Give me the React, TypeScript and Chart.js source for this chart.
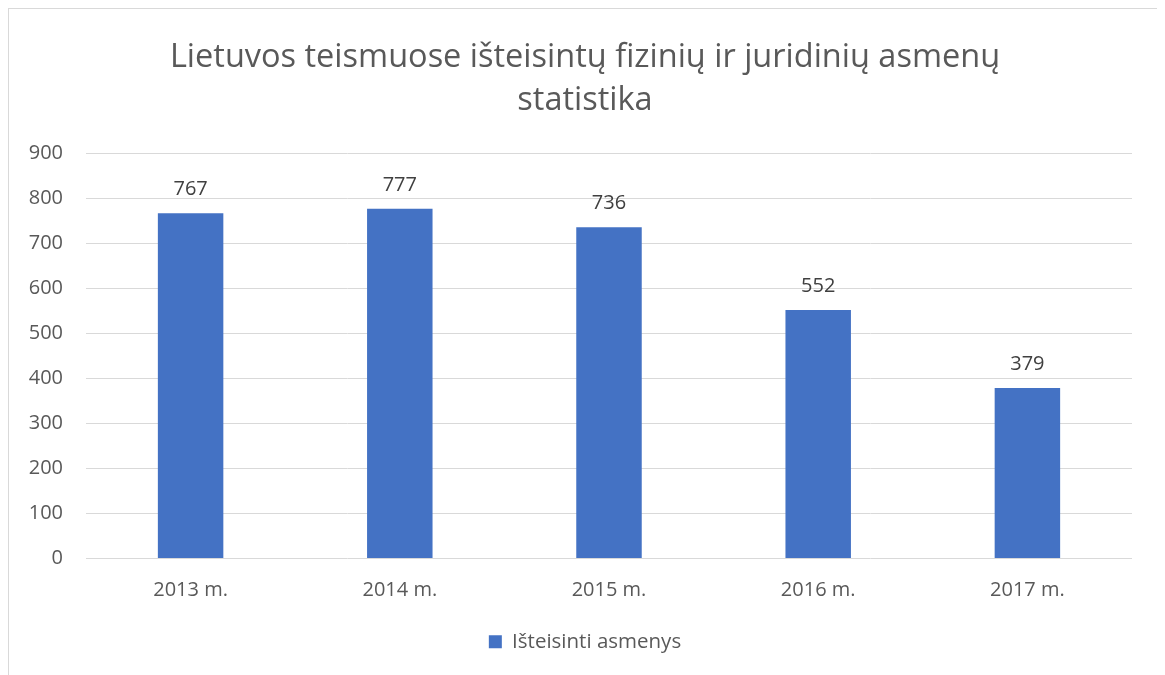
import React, { useEffect, useRef } from "react";
import { Chart, registerables } from "chart.js";

Chart.register(...registerables);

const categories = ["2013 m.", "2014 m.", "2015 m.", "2016 m.", "2017 m."];
const values = [767, 777, 736, 552, 379];
const seriesName = "Išteisinti asmenys";
const titleLines = ["Lietuvos teismuose išteisintų fizinių ir juridinių asmenų", "statistika"];

const FONT = "'Open Sans', sans-serif";
const TEXT = "#595959";

const valueLabels = {
  id: "valueLabels",
  afterDatasetsDraw(chart: any) {
    const ctx = chart.ctx;
    const meta = chart.getDatasetMeta(0);
    ctx.save();
    ctx.font = `20px ${FONT}`;
    ctx.fillStyle = "#404040";
    ctx.textAlign = "center";
    ctx.textBaseline = "alphabetic";
    meta.data.forEach((bar: any, i: number) => {
      ctx.fillText(String(values[i]), bar.x, bar.y - 18);
    });
    ctx.restore();
  },
};

export default function App() {
  const ref = useRef<HTMLCanvasElement | null>(null);
  useEffect(() => {
    if (!ref.current) return;
    const chart = new Chart(ref.current, {
      type: "bar",
      data: {
        labels: categories,
        datasets: [
          {
            label: seriesName,
            data: values,
            backgroundColor: "#4472C4",
            borderWidth: 0,
            categoryPercentage: 1,
            barPercentage: 0.313,
          },
        ],
      },
      options: {
        responsive: false,
        animation: false,
        devicePixelRatio: 1,
        layout: { padding: { top: 28, right: 0, bottom: 13, left: 0 } },
        plugins: {
          title: {
            display: true,
            text: titleLines,
            color: TEXT,
            font: { family: FONT, size: 32.5, weight: "normal", lineHeight: 1.3 },
            padding: { top: 0, bottom: 32 },
          },
          legend: {
            position: "bottom",
            labels: {
              color: TEXT,
              font: { family: FONT, size: 20.5 },
              boxWidth: 13,
              boxHeight: 13,
              padding: 13,
            },
          },
          tooltip: { enabled: false },
        },
        scales: {
          x: {
            grid: { display: false },
            border: { display: false },
            ticks: { color: TEXT, font: { family: FONT, size: 20 }, padding: 12 },
            afterFit(scale: any) {
              scale.height += 4;
            },
          },
          y: {
            min: 0,
            max: 900,
            ticks: { stepSize: 100, color: TEXT, font: { family: FONT, size: 20 }, padding: 23 },
            grid: { color: "#d9d9d9", lineWidth: 1, drawTicks: false },
            border: { display: false },
            afterFit(scale: any) {
              scale.width = 77;
            },
          },
          yRight: {
            type: "linear",
            position: "right",
            min: 0,
            max: 900,
            ticks: { display: false },
            grid: { display: false, drawTicks: false },
            border: { display: false },
            afterFit(scale: any) {
              scale.width = 29;
            },
          },
        },
      },
      plugins: [valueLabels],
    });
    return () => chart.destroy();
  }, []);
  return (
    <div
      style={{
        position: "relative",
        width: 1152,
        height: 700,
        border: "1px solid #d9d9d9",
        borderBottom: "none",
        background: "#fff",
      }}
    >
      <canvas ref={ref} width={1152} height={666} style={{ display: "block" }} />
    </div>
  );
}
